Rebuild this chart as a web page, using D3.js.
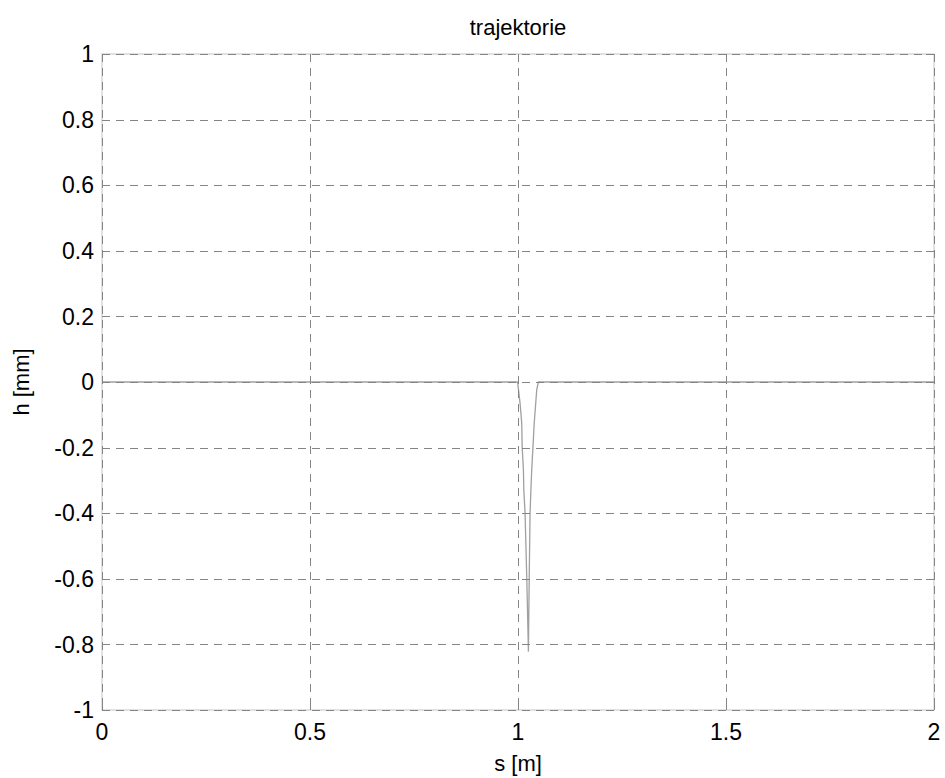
<!DOCTYPE html>
<html><head><meta charset="utf-8">
<script src="https://cdn.jsdelivr.net/npm/d3@7"></script>
<style>body{margin:0;background:#fff}text{font-family:"Liberation Sans",Arial,sans-serif;fill:#000}</style>
</head><body>
<script>
const xTicks = [0, 0.5, 1, 1.5, 2];
const yTicks = [-1, -0.8, -0.6, -0.4, -0.2, 0, 0.2, 0.4, 0.6, 0.8, 1];
const sValues = [0, 0.999, 1.005, 1.009, 1.010, 1.013, 1.014, 1.017, 1.021, 1.023, 1.025, 1.026, 1.027, 1.029, 1.031, 1.033, 1.036, 1.039, 1.045, 1.049, 2];
const hValues = [0, 0, -0.065, -0.126, -0.197, -0.268, -0.329, -0.400, -0.594, -0.704, -0.822, -0.704, -0.595, -0.400, -0.329, -0.268, -0.197, -0.125, -0.024, 0, 0];
const title = "trajektorie", xLabel = "s [m]", yLabel = "h [mm]";

const W = 945, H = 778;
const L = 102, R = 934, T = 54, B = 710;
const svg = d3.select("body").append("svg").attr("width", W).attr("height", H);
const x = d3.scaleLinear().domain([0, 2]).range([L, R]);
const y = d3.scaleLinear().domain([-1, 1]).range([B, T]);

// box
svg.append("rect").attr("x", L).attr("y", T).attr("width", R - L).attr("height", B - T)
  .attr("fill", "none").attr("stroke", "#c4c4c4").attr("stroke-width", 1);

// data
const data = sValues.map((s, i) => ({s, h: hValues[i]}));
svg.append("path").datum(data)
  .attr("d", d3.line().x(d => x(d.s)).y(d => y(d.h)))
  .attr("fill", "none").attr("stroke", "#a0a0a0").attr("stroke-width", 1.3);

// grid
const grid = svg.append("g").attr("stroke", "#858585").attr("stroke-width", 1).attr("stroke-dasharray", "8,6");
xTicks.forEach(t => grid.append("line").attr("x1", Math.round(x(t)) + 0.5).attr("x2", Math.round(x(t)) + 0.5).attr("y1", T).attr("y2", B));
yTicks.forEach(t => grid.append("line").attr("y1", Math.round(y(t)) + 0.5).attr("y2", Math.round(y(t)) + 0.5).attr("x1", L).attr("x2", R));

// ticks (inner) on all sides
const tk = svg.append("g").attr("stroke", "#858585").attr("stroke-width", 1);
const tl = 8;
xTicks.forEach(t => {
  const px = Math.round(x(t)) + 0.5;
  tk.append("line").attr("x1", px).attr("x2", px).attr("y1", B).attr("y2", B - tl);
  tk.append("line").attr("x1", px).attr("x2", px).attr("y1", T).attr("y2", T + tl);
});
yTicks.forEach(t => {
  const py = Math.round(y(t)) + 0.5;
  tk.append("line").attr("x1", L).attr("x2", L + tl).attr("y1", py).attr("y2", py);
  tk.append("line").attr("x1", R).attr("x2", R - tl).attr("y1", py).attr("y2", py);
});

// tick labels
const fs = 23;
svg.append("g").selectAll("text").data(xTicks).join("text")
  .attr("x", d => x(d)).attr("y", B + 30).attr("text-anchor", "middle")
  .attr("font-size", fs).text(d => d3.format("")(d));
svg.append("g").selectAll("text").data(yTicks).join("text")
  .attr("x", L - 8).attr("y", d => y(d)).attr("dy", "0.36em").attr("text-anchor", "end")
  .attr("font-size", fs).text(d => d3.format("")(d).replace("−", "-"));

// labels
svg.append("text").attr("x", (L + R) / 2).attr("y", 35).attr("text-anchor", "middle").attr("font-size", fs - 1).text(title);
svg.append("text").attr("x", (L + R) / 2).attr("y", 771).attr("text-anchor", "middle").attr("font-size", fs - 1).text(xLabel);
svg.append("text").attr("transform", `translate(29,${(T + B) / 2}) rotate(-90)`).attr("text-anchor", "middle").attr("font-size", fs - 1).text(yLabel);
</script>
</body></html>
